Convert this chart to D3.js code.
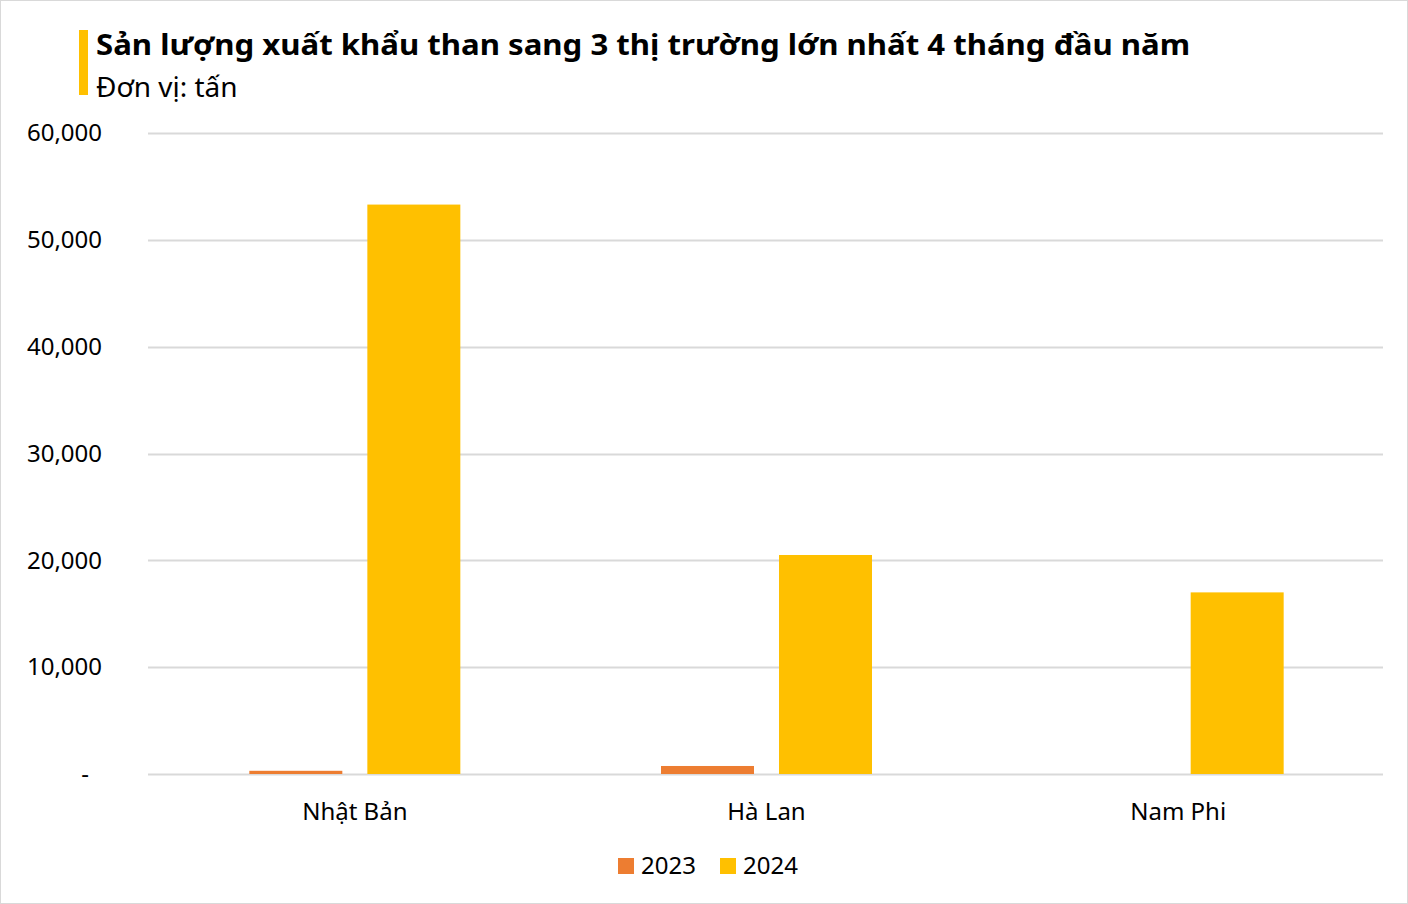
<!DOCTYPE html>
<meta charset="utf-8">
<head>
<script src="https://d3js.org/d3.v7.min.js"></script>
<style>
body { margin: 0; background: #fff; }
text { font-family: "Noto Sans", "Open Sans", sans-serif; fill: #000; }
</style>
</head>
<body>
<div id="chart"></div>
<script>
// data
var categories = ["Nhật Bản", "Hà Lan", "Nam Phi"];
var seriesNames = ["2023", "2024"];
var values2023 = [300, 750, 0];
var values2024 = [53300, 20500, 17000];
var yTicks = [0, 10000, 20000, 30000, 40000, 50000, 60000];
var colors = ["#ED7D31", "#FFC000"];

var W = 1408, H = 904;
var plot = {left: 148, right: 1383, top: 133, bottom: 774};

var svg = d3.select("#chart").append("svg")
    .attr("width", W)
    .attr("height", H);

// outer frame
svg.append("rect")
    .attr("x", 0.5).attr("y", 0.5)
    .attr("width", W - 1).attr("height", H - 1)
    .attr("fill", "#fff")
    .attr("stroke", "#d9d9d9");

// title block
svg.append("rect")
    .attr("x", 79).attr("y", 30)
    .attr("width", 9).attr("height", 65)
    .attr("fill", "#FFC000");

svg.append("text")
    .attr("x", 96).attr("y", 55)
    .style("font-size", "29px")
    .style("font-weight", "bold")
    .attr("textLength", 1094)
    .attr("lengthAdjust", "spacingAndGlyphs")
    .text("Sản lượng xuất khẩu than sang 3 thị trường lớn nhất 4 tháng đầu năm");

svg.append("text")
    .attr("x", 96).attr("y", 97)
    .style("font-size", "28px")
    .text("Đơn vị: tấn");

var x0 = d3.scaleBand()
    .domain(categories)
    .range([plot.left, plot.right])
    .padding(0);

var x1 = d3.scaleBand()
    .domain(seriesNames)
    .range([0, 211])
    .paddingInner(0.212)
    .paddingOuter(0);

var y = d3.scaleLinear()
    .domain([0, 60000])
    .range([plot.bottom, plot.top]);

// gridlines
svg.append("g")
    .selectAll("line")
    .data(yTicks)
    .enter().append("line")
    .attr("x1", plot.left).attr("x2", plot.right)
    .attr("y1", function(d) { return Math.round(y(d)) + 0.5; })
    .attr("y2", function(d) { return Math.round(y(d)) + 0.5; })
    .attr("stroke", "#d9d9d9")
    .attr("stroke-width", 2);

// y labels
var yAxis = d3.axisLeft(y)
    .tickValues(yTicks)
    .tickSize(0)
    .tickPadding(0)
    .tickFormat(function(d) { return d === 0 ? "-" : d3.format(",")(d); });

var yg = svg.append("g")
    .attr("transform", "translate(102,0)")
    .call(yAxis);
yg.select(".domain").remove();
yg.selectAll("text")
    .style("font-size", "24px")
    .style("font-family", "\"Noto Sans\", sans-serif")
    .attr("fill", "#000");
yg.selectAll(".tick")
    .filter(function(d) { return d === 0; })
    .select("text")
    .attr("dx", "-13");

// bars
var rows = categories.map(function(c, i) {
  return {cat: c, vals: [values2023[i], values2024[i]]};
});

var groups = svg.append("g")
    .selectAll("g")
    .data(rows)
    .enter().append("g")
    .attr("transform", function(d) {
      return "translate(" + (x0(d.cat) + (x0.bandwidth() - 211) / 2 + 1) + ",0)";
    });

groups.selectAll("rect")
    .data(function(d) { return d.vals.map(function(v, i) { return {key: seriesNames[i], v: v}; }); })
    .enter().append("rect")
    .attr("x", function(d) { return x1(d.key); })
    .attr("width", x1.bandwidth())
    .attr("y", function(d) { return y(d.v); })
    .attr("height", function(d) { return y(0) - y(d.v); })
    .attr("fill", function(d, i) { return colors[i]; });

// x labels
var xAxis = d3.axisBottom(x0).tickSize(0).tickPadding(0);
var xg = svg.append("g")
    .attr("transform", "translate(1,803)")
    .call(xAxis);
xg.select(".domain").remove();
xg.selectAll("text")
    .style("font-size", "24px")
    .style("font-family", "\"Noto Sans\", sans-serif")
    .attr("fill", "#000")
    .attr("dy", "0.71em");

// legend
var legendX = [618, 720];
var legend = svg.append("g")
    .selectAll("g")
    .data(seriesNames)
    .enter().append("g")
    .attr("transform", function(d, i) { return "translate(" + legendX[i] + ",858)"; });

legend.append("rect")
    .attr("width", 16).attr("height", 16)
    .attr("fill", function(d, i) { return colors[i]; });

legend.append("text")
    .attr("x", 23).attr("y", 8)
    .attr("dy", "0.35em")
    .style("font-size", "24px")
    .text(function(d) { return d; });
</script>
</body>
</html>
